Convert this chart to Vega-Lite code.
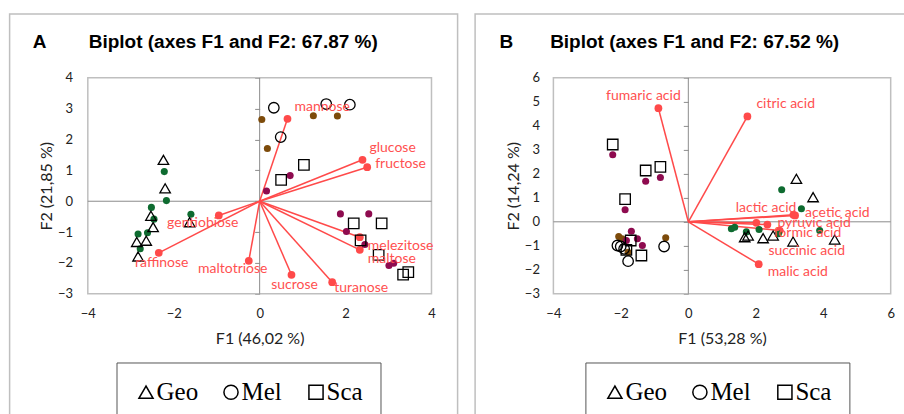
{
  "$schema": "https://vega.github.io/schema/vega-lite/v6.json",
  "background": "white",
  "padding": {"left": 8.6, "top": 12.9, "right": 0, "bottom": 0},
  "spacing": 15.5,
  "datasets": {
    "A_pts": [
      {"group":"Geo","kind":"filled","x":-2.22,"y":0.96},
      {"group":"Geo","kind":"filled","x":-2.17,"y":0.02},
      {"group":"Geo","kind":"filled","x":-2.52,"y":-0.20},
      {"group":"Geo","kind":"filled","x":-2.46,"y":-0.58},
      {"group":"Geo","kind":"filled","x":-2.61,"y":-1.02},
      {"group":"Geo","kind":"filled","x":-2.83,"y":-1.06},
      {"group":"Geo","kind":"filled","x":-2.78,"y":-1.54},
      {"group":"Geo","kind":"filled","x":-1.60,"y":-0.42},
      {"group":"Mel","kind":"filled","x":0.05,"y":2.65},
      {"group":"Mel","kind":"filled","x":1.25,"y":2.77},
      {"group":"Mel","kind":"filled","x":1.81,"y":2.76},
      {"group":"Mel","kind":"filled","x":0.18,"y":1.71},
      {"group":"Sca","kind":"filled","x":0.71,"y":0.83},
      {"group":"Sca","kind":"filled","x":0.16,"y":0.33},
      {"group":"Sca","kind":"filled","x":1.88,"y":-0.41},
      {"group":"Sca","kind":"filled","x":2.54,"y":-0.41},
      {"group":"Sca","kind":"filled","x":2.02,"y":-0.98},
      {"group":"Sca","kind":"filled","x":2.45,"y":-1.40},
      {"group":"Sca","kind":"filled","x":3.01,"y":-2.08},
      {"group":"Sca","kind":"filled","x":3.12,"y":-2.01},
      {"group":"Geo","kind":"open","x":-2.24,"y":1.34},
      {"group":"Geo","kind":"open","x":-2.20,"y":0.42},
      {"group":"Geo","kind":"open","x":-2.53,"y":-0.47},
      {"group":"Geo","kind":"open","x":-2.48,"y":-0.84},
      {"group":"Geo","kind":"open","x":-2.64,"y":-1.28},
      {"group":"Geo","kind":"open","x":-2.86,"y":-1.32},
      {"group":"Geo","kind":"open","x":-2.83,"y":-1.79},
      {"group":"Geo","kind":"open","x":-1.63,"y":-0.68},
      {"group":"Mel","kind":"open","x":0.33,"y":3.03},
      {"group":"Mel","kind":"open","x":1.55,"y":3.15},
      {"group":"Mel","kind":"open","x":2.10,"y":3.13},
      {"group":"Mel","kind":"open","x":0.49,"y":2.08},
      {"group":"Sca","kind":"open","x":1.03,"y":1.18},
      {"group":"Sca","kind":"open","x":0.50,"y":0.69},
      {"group":"Sca","kind":"open","x":2.19,"y":-0.72},
      {"group":"Sca","kind":"open","x":2.84,"y":-0.72},
      {"group":"Sca","kind":"open","x":2.35,"y":-1.27},
      {"group":"Sca","kind":"open","x":2.77,"y":-1.74},
      {"group":"Sca","kind":"open","x":3.34,"y":-2.38},
      {"group":"Sca","kind":"open","x":3.46,"y":-2.30}
    ],
    "A_vec": [
      {"name":"mannose","x":0.648,"y":2.671},
      {"name":"glucose","x":2.394,"y":1.343},
      {"name":"fructose","x":2.503,"y":1.103},
      {"name":"melezitose","x":2.331,"y":-1.166},
      {"name":"maltose","x":2.331,"y":-1.574},
      {"name":"sucrose","x":0.741,"y":-2.384},
      {"name":"turanose","x":1.689,"y":-2.624},
      {"name":"maltotriose","x":-0.253,"y":-1.931},
      {"name":"raffinose","x":-2.348,"y":-1.671},
      {"name":"gentiobiose","x":-0.951,"y":-0.462}
    ],
    "B_pts": [
      {"group":"Geo","kind":"filled","x":2.769,"y":1.333},
      {"group":"Geo","kind":"filled","x":3.353,"y":0.542},
      {"group":"Geo","kind":"filled","x":1.277,"y":-0.292},
      {"group":"Geo","kind":"filled","x":1.375,"y":-0.225},
      {"group":"Geo","kind":"filled","x":2.098,"y":-0.321},
      {"group":"Geo","kind":"filled","x":3.895,"y":-0.363},
      {"group":"Geo","kind":"filled","x":2.671,"y":-0.50},
      {"group":"Geo","kind":"filled","x":1.72,"y":-0.42},
      {"group":"Mel","kind":"filled","x":-2.063,"y":-0.613},
      {"group":"Mel","kind":"filled","x":-1.963,"y":-0.708},
      {"group":"Mel","kind":"filled","x":-1.785,"y":-1.267},
      {"group":"Mel","kind":"filled","x":-0.670,"y":-0.667},
      {"group":"Sca","kind":"filled","x":-2.241,"y":2.792},
      {"group":"Sca","kind":"filled","x":-1.264,"y":1.692},
      {"group":"Sca","kind":"filled","x":-0.828,"y":1.846},
      {"group":"Sca","kind":"filled","x":-1.874,"y":0.50},
      {"group":"Sca","kind":"filled","x":-1.688,"y":-0.392},
      {"group":"Sca","kind":"filled","x":-1.510,"y":-0.708},
      {"group":"Sca","kind":"filled","x":-1.362,"y":-0.988},
      {"group":"Sca","kind":"filled","x":-1.836,"y":-0.779},
      {"group":"Geo","kind":"open","x":3.204,"y":1.792},
      {"group":"Geo","kind":"open","x":3.699,"y":1.025},
      {"group":"Geo","kind":"open","x":1.672,"y":-0.642},
      {"group":"Geo","kind":"open","x":1.772,"y":-0.571},
      {"group":"Geo","kind":"open","x":2.217,"y":-0.683},
      {"group":"Geo","kind":"open","x":2.514,"y":-0.571},
      {"group":"Geo","kind":"open","x":3.106,"y":-0.821},
      {"group":"Geo","kind":"open","x":4.340,"y":-0.738},
      {"group":"Mel","kind":"open","x":-2.102,"y":-0.988},
      {"group":"Mel","kind":"open","x":-2.004,"y":-1.029},
      {"group":"Mel","kind":"open","x":-1.903,"y":-1.125},
      {"group":"Mel","kind":"open","x":-1.785,"y":-1.642},
      {"group":"Mel","kind":"open","x":-0.718,"y":-1.029},
      {"group":"Sca","kind":"open","x":-2.241,"y":3.221},
      {"group":"Sca","kind":"open","x":-1.264,"y":2.138},
      {"group":"Sca","kind":"open","x":-0.828,"y":2.292},
      {"group":"Sca","kind":"open","x":-1.874,"y":0.942},
      {"group":"Sca","kind":"open","x":-1.708,"y":-0.779},
      {"group":"Sca","kind":"open","x":-1.836,"y":-1.167},
      {"group":"Sca","kind":"open","x":-1.391,"y":-1.404}
    ],
    "B_vec": [
      {"name":"fumaric acid","x":-0.887,"y":4.733},
      {"name":"citric acid","x":1.752,"y":4.388},
      {"name":"lactic acid","x":3.115,"y":0.292},
      {"name":"acetic acid","x":3.166,"y":0.263},
      {"name":"pyruvic acid","x":2.344,"y":-0.113},
      {"name":"formic acid","x":2.709,"y":-0.363},
      {"name":"succinic acid","x":2.018,"y":-0.042},
      {"name":"malic acid","x":2.087,"y":-1.767}
    ]
  },
  "hconcat": [
    {
      "title": {"text": "A\u00a0\u00a0\u00a0\u00a0\u00a0\u00a0\u00a0\u00a0Biplot (axes F1 and F2: 67.87 %)", "anchor": "start", "frame": "group", "orient": "top", "offset": -52.8, "dx": 23.2, "baseline": "alphabetic", "font": "Liberation Sans", "fontSize": 19, "fontWeight": "bold", "color": "black"},
      "width": 448,
      "height": 406,
      "layer": [
        {
          "data": {"values": [{}]},
          "mark": {"type": "rect", "fill": "transparent", "stroke": "#bfbfbf", "strokeWidth": 1.5},
          "encoding": {
            "x": {"datum": -4, "type": "quantitative",
              "scale": {"domain": [-5.8205, 4.6078], "nice": false, "zero": false},
              "axis": {"values": [-4, -2, 0, 2, 4], "title": "F1 (46,02 %)", "offset": -126.08, "ticks": false, "domain": false, "labelPadding": 20, "labelBaseline": "middle", "titleX": 250.05, "titleY": 45, "titleBaseline": "middle"}},
            "x2": {"datum": 4},
            "y": {"datum": -3, "type": "quantitative",
              "scale": {"domain": [-7.086, 6.071], "nice": false, "zero": false},
              "axis": {"values": [-3, -2, -1, 0, 1, 2, 3, 4], "title": "F2 (21,85 %)", "offset": -250.05, "ticks": true, "tickSize": 5, "tickColor": "#8c8c8c", "tickWidth": 1, "domain": false, "labelPadding": 182, "titleX": -212.7, "titleY": 171.9, "titleBaseline": "middle", "titleAngle": 270}},
            "y2": {"datum": 4}
          }
        },
        {"data": {"values": [{}]}, "mark": {"type": "rule", "color": "#8c8c8c", "strokeWidth": 1}, "encoding": {"x": {"datum": 0, "type": "quantitative"}, "y": {"datum": -3, "type": "quantitative"}, "y2": {"datum": 4}}},
        {"data": {"values": [{}]}, "mark": {"type": "rule", "color": "#8c8c8c", "strokeWidth": 1}, "encoding": {"y": {"datum": 0, "type": "quantitative"}, "x": {"datum": -4, "type": "quantitative"}, "x2": {"datum": 4}}},
        {"data": {"name": "A_vec"}, "mark": {"type": "rule", "color": "#ff4a4a", "strokeWidth": 1.5},
          "encoding": {"x": {"field": "x", "type": "quantitative"}, "y": {"field": "y", "type": "quantitative"}, "x2": {"datum": 0}, "y2": {"datum": 0}}},
        {"data": {"name": "A_vec"}, "mark": {"type": "circle", "color": "#ff4a4a", "size": 60, "opacity": 1},
          "encoding": {"x": {"field": "x", "type": "quantitative"}, "y": {"field": "y", "type": "quantitative"}}},
        {"data": {"name": "A_pts"}, "transform": [{"filter": {"field": "kind", "equal": "filled"}}],
          "mark": {"type": "circle", "size": 50, "opacity": 1},
          "encoding": {"x": {"field": "x", "type": "quantitative"}, "y": {"field": "y", "type": "quantitative"},
            "color": {"field": "group", "type": "nominal", "scale": {"domain": ["Sca", "Mel", "Geo"], "range": ["#8e0b4f", "#7d4b0b", "#0e6b30"]}, "legend": null}}},
        {"data": {"name": "A_pts"}, "transform": [{"filter": {"field": "kind", "equal": "open"}}],
          "mark": {"type": "point", "filled": false, "color": "black", "strokeWidth": 1.3, "size": 110, "opacity": 1},
          "encoding": {"x": {"field": "x", "type": "quantitative"}, "y": {"field": "y", "type": "quantitative"},
            "shape": {"field": "group", "type": "nominal", "scale": {"domain": ["Geo", "Mel", "Sca"], "range": ["triangle-up", "circle", "square"]},
              "legend": {"title": null, "orient": "none", "legendX": 106.9, "legendY": 348.6, "direction": "horizontal", "columns": 3, "gridAlign": "all", "labelFont": "Liberation Serif", "labelFontSize": 25, "labelColor": "black", "symbolSize": 200, "symbolStrokeWidth": 1.5, "symbolStrokeColor": "black", "symbolFillColor": "transparent", "labelOffset": -2, "columnPadding": 20, "padding": 17, "strokeColor": "#555555", "fillColor": "white"}}}},
        {"data": {"name": "A_vec"}, "transform": [{"filter": {"field": "name", "oneOf": ["mannose", "glucose"]}}],
          "mark": {"type": "text", "font": "Lato", "fontSize": 14, "color": "#ff5050", "align": "left", "baseline": "middle", "dx": 7, "dy": -12},
          "encoding": {"x": {"field": "x", "type": "quantitative"}, "y": {"field": "y", "type": "quantitative"}, "text": {"field": "name"}}},
        {"data": {"name": "A_vec"}, "transform": [{"filter": {"field": "name", "oneOf": ["fructose"]}}],
          "mark": {"type": "text", "font": "Lato", "fontSize": 14, "color": "#ff5050", "align": "left", "baseline": "middle", "dx": 8, "dy": -3},
          "encoding": {"x": {"field": "x", "type": "quantitative"}, "y": {"field": "y", "type": "quantitative"}, "text": {"field": "name"}}},
        {"data": {"name": "A_vec"}, "transform": [{"filter": {"field": "name", "oneOf": ["melezitose", "maltose"]}}],
          "mark": {"type": "text", "font": "Lato", "fontSize": 14, "color": "#ff5050", "align": "left", "baseline": "middle", "dx": 8, "dy": 9},
          "encoding": {"x": {"field": "x", "type": "quantitative"}, "y": {"field": "y", "type": "quantitative"}, "text": {"field": "name"}}},
        {"data": {"name": "A_vec"}, "transform": [{"filter": {"field": "name", "oneOf": ["turanose"]}}],
          "mark": {"type": "text", "font": "Lato", "fontSize": 14, "color": "#ff5050", "align": "left", "baseline": "middle", "dx": 2, "dy": 6},
          "encoding": {"x": {"field": "x", "type": "quantitative"}, "y": {"field": "y", "type": "quantitative"}, "text": {"field": "name"}}},
        {"data": {"name": "A_vec"}, "transform": [{"filter": {"field": "name", "oneOf": ["sucrose", "raffinose"]}}],
          "mark": {"type": "text", "font": "Lato", "fontSize": 14, "color": "#ff5050", "align": "center", "baseline": "middle", "dx": 3, "dy": 10},
          "encoding": {"x": {"field": "x", "type": "quantitative"}, "y": {"field": "y", "type": "quantitative"}, "text": {"field": "name"}}},
        {"data": {"name": "A_vec"}, "transform": [{"filter": {"field": "name", "oneOf": ["maltotriose", "gentiobiose"]}}],
          "mark": {"type": "text", "font": "Lato", "fontSize": 14, "color": "#ff5050", "align": "center", "baseline": "middle", "dx": -16, "dy": 8},
          "encoding": {"x": {"field": "x", "type": "quantitative"}, "y": {"field": "y", "type": "quantitative"}, "text": {"field": "name"}}}
      ]
    },
    {
      "title": {"text": "B\u00a0\u00a0\u00a0\u00a0\u00a0\u00a0\u00a0Biplot (axes F1 and F2: 67.52 %)", "anchor": "start", "frame": "group", "orient": "top", "offset": -52.8, "dx": 24.4, "baseline": "alphabetic", "font": "Liberation Sans", "fontSize": 19, "fontWeight": "bold", "color": "black"},
      "width": 431,
      "height": 406,
      "layer": [
        {
          "data": {"values": [{}]},
          "mark": {"type": "rect", "fill": "transparent", "stroke": "#bfbfbf", "strokeWidth": 1.5},
          "encoding": {
            "x": {"datum": -4, "type": "quantitative",
              "scale": {"domain": [-6.3214, 6.4564], "nice": false, "zero": false},
              "axis": {"values": [-4, -2, 0, 2, 4, 6], "title": "F1 (53,28 %)", "offset": -126.08, "ticks": false, "domain": false, "labelPadding": 20, "labelBaseline": "middle", "titleX": 246.95, "titleY": 45, "titleBaseline": "middle"}},
            "x2": {"datum": 6},
            "y": {"datum": -3, "type": "quantitative",
              "scale": {"domain": [-8.254, 8.6625], "nice": false, "zero": false},
              "axis": {"values": [-3, -2, -1, 0, 1, 2, 3, 4, 5, 6], "title": "F2 (14,24 %)", "offset": -213.22, "ticks": true, "tickSize": 5, "tickColor": "#8c8c8c", "tickWidth": 1, "domain": false, "labelPadding": 143.9, "titleX": -174.9, "titleY": 171.9, "titleBaseline": "middle", "titleAngle": 270}},
            "y2": {"datum": 6}
          }
        },
        {"data": {"values": [{}]}, "mark": {"type": "rule", "color": "#8c8c8c", "strokeWidth": 1}, "encoding": {"x": {"datum": 0, "type": "quantitative"}, "y": {"datum": -3, "type": "quantitative"}, "y2": {"datum": 6}}},
        {"data": {"values": [{}]}, "mark": {"type": "rule", "color": "#8c8c8c", "strokeWidth": 1}, "encoding": {"y": {"datum": 0, "type": "quantitative"}, "x": {"datum": -4, "type": "quantitative"}, "x2": {"datum": 6}}},
        {"data": {"name": "B_vec"}, "mark": {"type": "rule", "color": "#ff4a4a", "strokeWidth": 1.5},
          "encoding": {"x": {"field": "x", "type": "quantitative"}, "y": {"field": "y", "type": "quantitative"}, "x2": {"datum": 0}, "y2": {"datum": 0}}},
        {"data": {"name": "B_vec"}, "mark": {"type": "circle", "color": "#ff4a4a", "size": 60, "opacity": 1},
          "encoding": {"x": {"field": "x", "type": "quantitative"}, "y": {"field": "y", "type": "quantitative"}}},
        {"data": {"name": "B_pts"}, "transform": [{"filter": {"field": "kind", "equal": "filled"}}],
          "mark": {"type": "circle", "size": 50, "opacity": 1},
          "encoding": {"x": {"field": "x", "type": "quantitative"}, "y": {"field": "y", "type": "quantitative"},
            "color": {"field": "group", "type": "nominal", "scale": {"domain": ["Sca", "Mel", "Geo"], "range": ["#8e0b4f", "#7d4b0b", "#0e6b30"]}, "legend": null}}},
        {"data": {"name": "B_pts"}, "transform": [{"filter": {"field": "kind", "equal": "open"}}],
          "mark": {"type": "point", "filled": false, "color": "black", "strokeWidth": 1.3, "size": 110, "opacity": 1},
          "encoding": {"x": {"field": "x", "type": "quantitative"}, "y": {"field": "y", "type": "quantitative"},
            "shape": {"field": "group", "type": "nominal", "scale": {"domain": ["Geo", "Mel", "Sca"], "range": ["triangle-up", "circle", "square"]},
              "legend": {"title": null, "orient": "none", "legendX": 110.3, "legendY": 348.6, "direction": "horizontal", "columns": 3, "gridAlign": "all", "labelFont": "Liberation Serif", "labelFontSize": 25, "labelColor": "black", "symbolSize": 200, "symbolStrokeWidth": 1.5, "symbolStrokeColor": "black", "symbolFillColor": "transparent", "labelOffset": -2, "columnPadding": 20, "padding": 17, "strokeColor": "#555555", "fillColor": "white"}}}},
        {"data": {"name": "B_vec"}, "transform": [{"filter": {"field": "name", "oneOf": ["fumaric acid"]}}],
          "mark": {"type": "text", "font": "Lato", "fontSize": 14, "color": "#ff5050", "align": "center", "baseline": "middle", "dx": -15, "dy": -12},
          "encoding": {"x": {"field": "x", "type": "quantitative"}, "y": {"field": "y", "type": "quantitative"}, "text": {"field": "name"}}},
        {"data": {"name": "B_vec"}, "transform": [{"filter": {"field": "name", "oneOf": ["citric acid"]}}],
          "mark": {"type": "text", "font": "Lato", "fontSize": 14, "color": "#ff5050", "align": "left", "baseline": "middle", "dx": 9, "dy": -12},
          "encoding": {"x": {"field": "x", "type": "quantitative"}, "y": {"field": "y", "type": "quantitative"}, "text": {"field": "name"}}},
        {"data": {"name": "B_vec"}, "transform": [{"filter": {"field": "name", "oneOf": ["lactic acid"]}}],
          "mark": {"type": "text", "font": "Lato", "fontSize": 14, "color": "#ff5050", "align": "right", "baseline": "middle", "dx": 3, "dy": -7},
          "encoding": {"x": {"field": "x", "type": "quantitative"}, "y": {"field": "y", "type": "quantitative"}, "text": {"field": "name"}}},
        {"data": {"name": "B_vec"}, "transform": [{"filter": {"field": "name", "oneOf": ["acetic acid", "pyruvic acid"]}}],
          "mark": {"type": "text", "font": "Lato", "fontSize": 14, "color": "#ff5050", "align": "left", "baseline": "middle", "dx": 10, "dy": -2},
          "encoding": {"x": {"field": "x", "type": "quantitative"}, "y": {"field": "y", "type": "quantitative"}, "text": {"field": "name"}}},
        {"data": {"name": "B_vec"}, "transform": [{"filter": {"field": "name", "oneOf": ["formic acid"]}}],
          "mark": {"type": "text", "font": "Lato", "fontSize": 14, "color": "#ff5050", "align": "left", "baseline": "middle", "dx": -6, "dy": 2},
          "encoding": {"x": {"field": "x", "type": "quantitative"}, "y": {"field": "y", "type": "quantitative"}, "text": {"field": "name"}}},
        {"data": {"name": "B_vec"}, "transform": [{"filter": {"field": "name", "oneOf": ["succinic acid"]}}],
          "mark": {"type": "text", "font": "Lato", "fontSize": 14, "color": "#ff5050", "align": "left", "baseline": "middle", "dx": 12, "dy": 28},
          "encoding": {"x": {"field": "x", "type": "quantitative"}, "y": {"field": "y", "type": "quantitative"}, "text": {"field": "name"}}},
        {"data": {"name": "B_vec"}, "transform": [{"filter": {"field": "name", "oneOf": ["malic acid"]}}],
          "mark": {"type": "text", "font": "Lato", "fontSize": 14, "color": "#ff5050", "align": "left", "baseline": "middle", "dx": 9, "dy": 8},
          "encoding": {"x": {"field": "x", "type": "quantitative"}, "y": {"field": "y", "type": "quantitative"}, "text": {"field": "name"}}}
      ]
    }
  ],
  "resolve": {"scale": {"color": "independent", "shape": "independent"}, "legend": {"color": "independent", "shape": "independent"}},
  "config": {
    "view": {"stroke": "#bfbfbf", "strokeWidth": 1.5},
    "axis": {"labelFont": "Lato", "labelFontSize": 13, "labelColor": "#222222", "titleFont": "Lato", "titleFontSize": 16, "titleFontWeight": "normal", "titleColor": "#222222", "grid": false, "labelFlush": false, "labelOverlap": false, "labelBound": false}
  }
}
